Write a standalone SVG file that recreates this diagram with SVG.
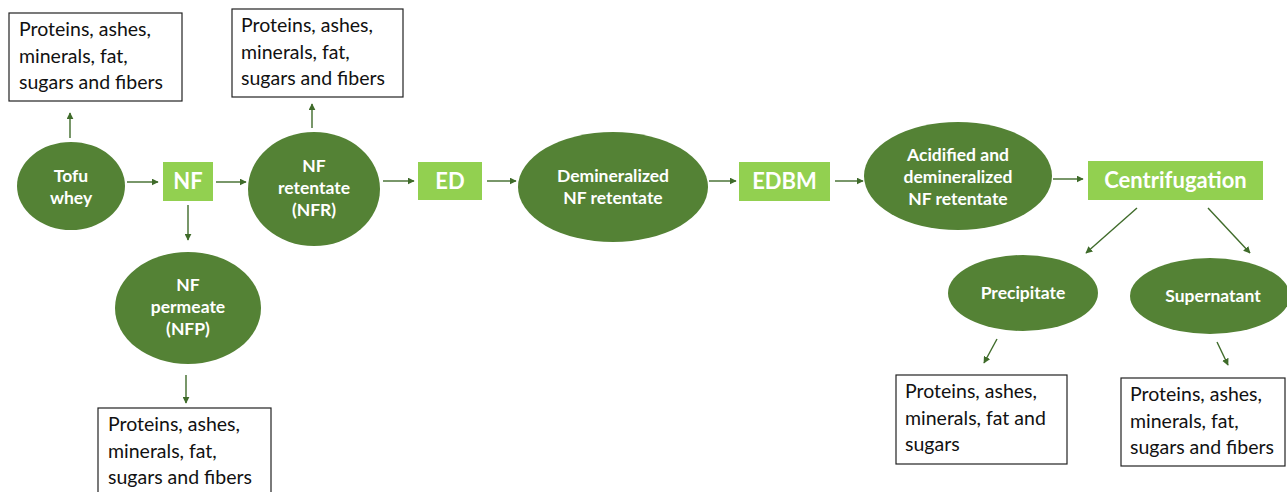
<svg xmlns="http://www.w3.org/2000/svg" width="1287" height="492" viewBox="0 0 1287 492">
<defs>
<marker id="ah" viewBox="0 0 10 10" refX="9" refY="5" markerWidth="7" markerHeight="7" markerUnits="userSpaceOnUse" orient="auto"><path d="M0,0 L10,5 L0,10 z" fill="#3f6b2a"/></marker>
<style>
.ell{fill:#548235;}
.box{fill:#92D050;}
.note{fill:#fff;stroke:#222;stroke-width:1.2;}
.et{font-family:Lato,"Liberation Sans",sans-serif;font-weight:bold;font-size:17.5px;fill:#fff;text-anchor:middle;}
.bt{font-family:Lato,"Liberation Sans",sans-serif;font-weight:bold;font-size:22px;fill:#fff;text-anchor:middle;}
.nt{font-family:Lato,"Liberation Sans",sans-serif;font-size:19.5px;fill:#111;}
.c line{stroke:#3f6b2a;stroke-width:1.4;marker-end:url(#ah);}
</style>
</defs>
<rect width="1287" height="492" fill="#fff"/>
<g id="note1"><rect class="note" x="9" y="13" width="173" height="88"/><text class="nt" x="19" y="36">Proteins, ashes,</text><text class="nt" x="19" y="63">minerals, fat,</text><text class="nt" x="19" y="89">sugars and fibers</text></g>
<g id="note2"><rect class="note" x="232" y="9" width="171" height="88"/><text class="nt" x="241" y="32">Proteins, ashes,</text><text class="nt" x="241" y="59">minerals, fat,</text><text class="nt" x="241" y="85">sugars and fibers</text></g>
<g id="tofu"><ellipse class="ell" cx="71" cy="186" rx="54" ry="44"/><text class="et" x="71" y="182">Tofu</text><text class="et" x="71" y="204">whey</text></g>
<g id="nf"><rect class="box" x="163" y="162" width="50" height="39"/><text class="bt" x="188" y="189">NF</text></g>
<g id="nfr"><ellipse class="ell" cx="314" cy="189" rx="66" ry="57"/><text class="et" x="314" y="172">NF</text><text class="et" x="314" y="194">retentate</text><text class="et" x="314" y="216">(NFR)</text></g>
<g id="ed"><rect class="box" x="418" y="162" width="64" height="38"/><text class="bt" x="450" y="189">ED</text></g>
<g id="dem"><ellipse class="ell" cx="613" cy="187" rx="95" ry="55"/><text class="et" x="613" y="182">Demineralized</text><text class="et" x="613" y="204">NF retentate</text></g>
<g id="edbm"><rect class="box" x="739" y="162" width="91" height="39"/><text class="bt" x="784.500" y="189">EDBM</text></g>
<g id="acid"><ellipse class="ell" cx="958" cy="176" rx="94" ry="54"/><text class="et" x="958" y="161">Acidified and</text><text class="et" x="958" y="183">demineralized</text><text class="et" x="958" y="205">NF retentate</text></g>
<g id="cent"><rect class="box" x="1088" y="161" width="175" height="39"/><text class="bt" x="1175.500" y="188">Centrifugation</text></g>
<g id="nfp"><ellipse class="ell" cx="188" cy="308" rx="73" ry="56"/><text class="et" x="188" y="291">NF</text><text class="et" x="188" y="313">permeate</text><text class="et" x="188" y="335">(NFP)</text></g>
<g id="note3"><rect class="note" x="98" y="408" width="173" height="90"/><text class="nt" x="108" y="431">Proteins, ashes,</text><text class="nt" x="108" y="458">minerals, fat,</text><text class="nt" x="108" y="484">sugars and fibers</text></g>
<g id="precip"><ellipse class="ell" cx="1023" cy="293" rx="75" ry="38"/><text class="et" x="1023" y="299">Precipitate</text></g>
<g id="super"><ellipse class="ell" cx="1210" cy="296" rx="80" ry="38"/><text class="et" x="1213" y="302">Supernatant</text></g>
<g id="note4"><rect class="note" x="896" y="375" width="171" height="89"/><text class="nt" x="905" y="398">Proteins, ashes,</text><text class="nt" x="905" y="425">minerals, fat and</text><text class="nt" x="905" y="451">sugars</text></g>
<g id="note5"><rect class="note" x="1121" y="378" width="164" height="88"/><text class="nt" x="1130" y="401">Proteins, ashes,</text><text class="nt" x="1130" y="428">minerals, fat,</text><text class="nt" x="1130" y="454">sugars and fibers</text></g>
<g id="connectors" class="c">
<line x1="70" y1="138" x2="70" y2="113"/>
<line x1="127" y1="182" x2="158" y2="182"/>
<line x1="216" y1="182" x2="246" y2="182"/>
<line x1="188" y1="205" x2="188" y2="240"/>
<line x1="312" y1="128" x2="312" y2="104"/>
<line x1="383" y1="181" x2="414" y2="181"/>
<line x1="487" y1="181" x2="516" y2="181"/>
<line x1="709" y1="181" x2="736" y2="181"/>
<line x1="835" y1="181" x2="863" y2="181"/>
<line x1="1053" y1="179" x2="1083" y2="179"/>
<line x1="1137" y1="208" x2="1086" y2="253"/>
<line x1="1208" y1="208" x2="1250" y2="253"/>
<line x1="186" y1="375" x2="186" y2="403"/>
<line x1="997" y1="339" x2="984" y2="363"/>
<line x1="1217" y1="342" x2="1228" y2="365"/>
</g>
</svg>
